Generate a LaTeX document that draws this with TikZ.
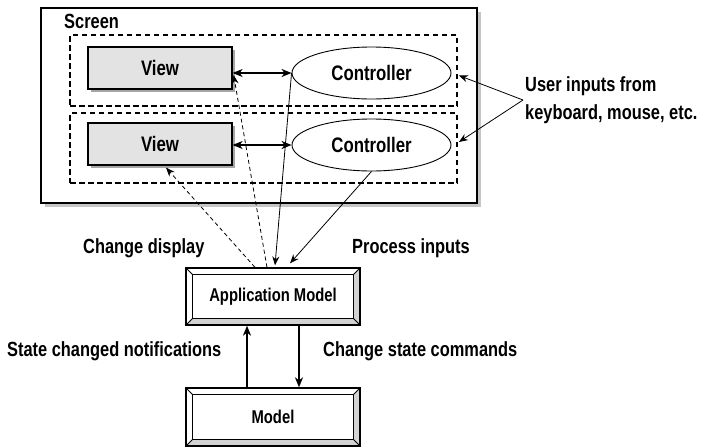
\documentclass[tikz,border=0pt]{standalone}
\usepackage{fontspec}
\setmainfont{Liberation Sans}[FakeStretch=0.8]
\usepackage{tikz}
\usetikzlibrary{arrows.meta,positioning,shapes.geometric,shadows}
\tikzset{
  screenbox/.style={
    draw,
    line width=2.2pt,
    fill=white,
    minimum width=436pt,
    minimum height=195pt,
    drop shadow={shadow xshift=4pt,shadow yshift=-4pt,fill=gray!45,opacity=1}
  },
  groupbox/.style={
    draw,
    line width=1.8pt,
    dash pattern=on 5.5pt off 3.5pt,
    minimum width=387pt
  },
  viewbox/.style={
    draw,
    line width=1.2pt,
    fill=gray!22,
    minimum width=144pt,
    minimum height=42pt,
    font=\bfseries\fontsize{21}{23}\selectfont,
    drop shadow={shadow xshift=3pt,shadow yshift=-3pt,fill=gray!70,opacity=1}
  },
  ctlellipse/.style={
    draw,
    ellipse,
    line width=0.9pt,
    fill=white,
    inner sep=0pt,
    minimum width=159pt,
    minimum height=52pt,
    font=\bfseries\fontsize{21}{23}\selectfont
  },
  bevelbox/.style={
    draw,
    line width=1.3pt,
    fill=white,
    minimum width=174pt,
    minimum height=57pt,
    font=\bfseries\fontsize{18.5}{21}\selectfont,
    path picture={
      \path (path picture bounding box.south west) coordinate (o1)
            (path picture bounding box.north east) coordinate (o2)
            (path picture bounding box.south east) coordinate (o3)
            (path picture bounding box.north west) coordinate (o4);
      \fill[gray!35] (o1) -- ([shift={(6.5pt,6.5pt)}]o1) -- ([shift={(-6.5pt,6.5pt)}]o3)
        -- ([shift={(-6.5pt,-6.5pt)}]o2) -- (o2) -- (o3) -- cycle;
      \draw[line width=1pt] ([shift={(6.5pt,6.5pt)}]o1) rectangle ([shift={(-6.5pt,-6.5pt)}]o2);
      \draw[line width=0.8pt] (o1) -- ++(6.5pt,6.5pt) (o2) -- ++(-6.5pt,-6.5pt)
        (o3) -- ++(-6.5pt,6.5pt) (o4) -- ++(6.5pt,-6.5pt);
    }
  },
  lbl/.style={font=\bfseries\fontsize{20.5}{28}\selectfont, inner sep=0pt, align=left},
  flowarrow/.style={-{Stealth[length=10pt,width=8pt,inset=3pt]}, line width=1.5pt},
  pairarrow/.style={{Stealth[length=10pt,width=8pt,inset=3pt]}-{Stealth[length=10pt,width=8pt,inset=3pt]}, line width=1.5pt},
  thinarrow/.style={-{Stealth[length=9pt,width=7pt,inset=3pt]}, line width=0.8pt},
  dasharrow/.style={thinarrow, dash pattern=on 4pt off 3pt}
}
\begin{document}
\begin{tikzpicture}[x=1pt,y=-1pt]
  \useasboundingbox (0,0) rectangle (703,447);
  % screen and its two view/controller pairs
  \node[screenbox] (screen) at (259,105.5) {};
  \node[lbl,anchor=base west] (scrlbl) at (64,28) {Screen};
  \node[groupbox,minimum height=71pt] (grp1) at (263.5,70.5) {};
  \node[groupbox,minimum height=70pt] (grp2) at (263.5,148) {};
  \node[viewbox] (view1) at (160,68) {View};
  \node[viewbox] (view2) at (160,144) {View};
  \node[ctlellipse] (ctl1) at (371.5,73) {Controller};
  \node[ctlellipse] (ctl2) at (371.5,145) {Controller};
  \draw[pairarrow] (ctl1.west) -- (ctl1.west -| view1.east);
  \draw[pairarrow] (ctl2.west) -- (ctl2.west -| view2.east);

  \node[lbl,anchor=west] (usr) at (525,100) {User inputs from\\keyboard, mouse, etc.};
  \draw[thinarrow] ([xshift=-2pt]usr.west) -- ([xshift=1pt,yshift=-5pt]grp1.east);
  \draw[thinarrow] ([xshift=-2pt]usr.west) -- ([xshift=1pt,yshift=6pt]grp2.east);

  % models
  \node[bevelbox] (app) at (273,296.5) {Application Model};
  \node[bevelbox,minimum height=58pt] (mdl) at (273,417) {Model};

  \draw[dasharrow] ([xshift=-18pt]app.north) -- ([xshift=6pt,yshift=-2pt]view2.south);
  \draw[dasharrow] ([xshift=-6pt]app.north) -- ([xshift=1pt,yshift=-7pt]view1.east);
  \draw[thinarrow] (ctl1.west) -- ([xshift=2pt,yshift=2pt]app.north);
  \draw[thinarrow] (ctl2.south) -- ([xshift=17pt,yshift=4pt]app.north);

  \draw[flowarrow] ([xshift=-26pt]mdl.north) -- ([xshift=-26pt]app.south);
  \draw[flowarrow] ([xshift=26pt]app.south) -- ([xshift=26pt]mdl.north);

  \node[lbl,anchor=base west] (dsp) at (83,253) {Change display};
  \node[lbl,anchor=base west] (prc) at (352,253) {Process inputs};
  \node[lbl,anchor=base west] (ntf) at (7,356) {State changed notifications};
  \node[lbl,anchor=base west] (cmd) at (323,356) {Change state commands};
\end{tikzpicture}
\end{document}
